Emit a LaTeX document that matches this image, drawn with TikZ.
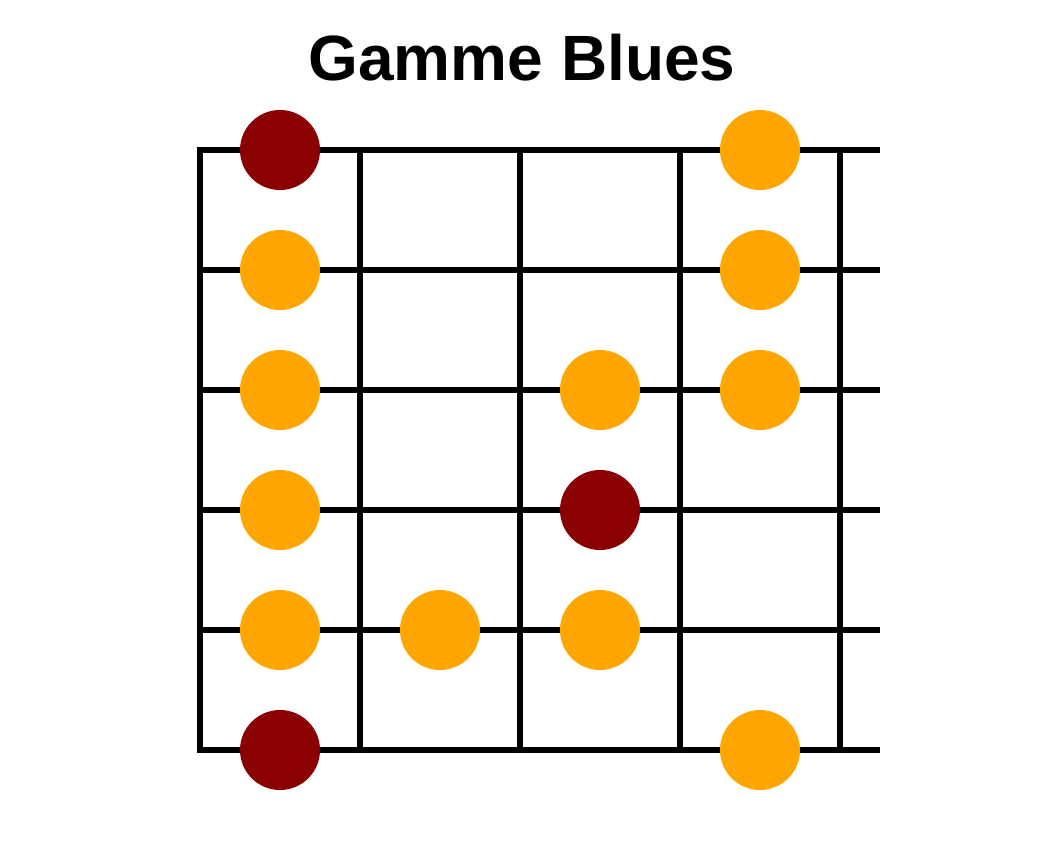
\documentclass[tikz,border=0pt]{standalone}
\usepackage{fontspec}
\setmainfont{Liberation Sans}
\usepackage{tikz}

\definecolor{rootred}{RGB}{139,0,0}
\definecolor{noteorange}{RGB}{255,165,0}
\tikzset{
	fret/.style={line width=5.3pt, color=black},
	root/.style={fill=rootred},
	note/.style={fill=noteorange},
}

\begin{document}
\begin{tikzpicture}[x=1pt, y=-1pt]
			%%%%% START %%%%%
			\useasboundingbox (0, 0) rectangle (1040, 850);
			
			\node[anchor=base, inner sep=0pt, font=\fontsize{64}{64}\selectfont\bfseries] (title) at (522, 81) {Gamme Blues};
			
			% cordes
			\foreach \y in {150, 270, 390, 510, 630, 750}
				\draw[fret] (200, \y) -- (880, \y);
			
			% frettes
			\foreach \x in {200, 360, 520, 680, 840}
				\draw[fret] (\x, 147.5) -- (\x, 752.5);
			
			% toniques
			\fill[root] (280, 150) circle (40);
			\fill[root] (600, 510) circle (40);
			\fill[root] (280, 750) circle (40);
			
			% autres notes
			\foreach \x/\y in {760/150, 280/270, 760/270, 280/390, 600/390, 760/390,
					280/510, 280/630, 440/630, 600/630, 760/750}
				\fill[note] (\x, \y) circle (40);
			
			%%%%% END %%%%%
\end{tikzpicture}
\end{document}
